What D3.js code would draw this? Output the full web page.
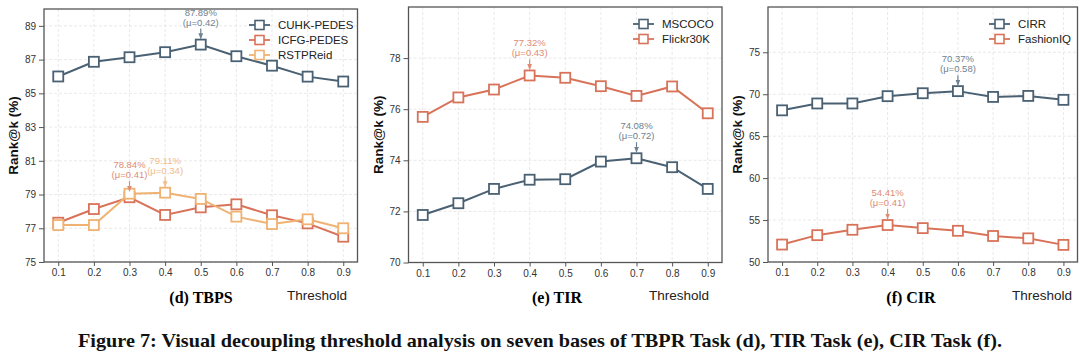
<!DOCTYPE html>
<html>
<head>
<meta charset="utf-8">
<script src="https://cdn.jsdelivr.net/npm/d3@7"></script>
<style>
  html, body { margin: 0; padding: 0; background: #fff; }
  svg { display: block; }
</style>
</head>
<body>
<svg id="chart" width="1080" height="355"></svg>
<script>
// ---------------- DATA ----------------
const thresholds = [0.1, 0.2, 0.3, 0.4, 0.5, 0.6, 0.7, 0.8, 0.9];
const xTickLabels = ["0.1","0.2","0.3","0.4","0.5","0.6","0.7","0.8","0.9"];

// (d) TBPS
const cuhkPedes  = [86.00, 86.87, 87.14, 87.44, 87.89, 87.20, 86.64, 85.99, 85.70];
const icfgPedes  = [77.33, 78.14, 78.84, 77.79, 78.24, 78.42, 77.77, 77.29, 76.50];
const rstpReid   = [77.19, 77.19, 79.05, 79.11, 78.74, 77.69, 77.25, 77.53, 77.00];
const tbpsYTicks = [75, 77, 79, 81, 83, 85, 87, 89];

// (e) TIR
const mscoco     = [71.86, 72.32, 72.88, 73.24, 73.26, 73.95, 74.08, 73.73, 72.88];
const flickr30k  = [75.70, 76.46, 76.77, 77.32, 77.23, 76.90, 76.52, 76.89, 75.84];
const tirYTicks  = [70, 72, 74, 76, 78];

// (f) CIR
const cirr       = [68.08, 68.90, 68.90, 69.77, 70.12, 70.37, 69.68, 69.80, 69.33];
const fashionIQ  = [52.08, 53.20, 53.84, 54.41, 54.04, 53.72, 53.10, 52.82, 52.04];
const cirYTicks  = [50, 55, 60, 65, 70, 75];

// peak annotations: [series, index, value text, mu text]
const tbpsNotes = [["CUHK-PEDES", 4, "87.89%", "(μ=0.42)"], ["ICFG-PEDES", 2, "78.84%", "(μ=0.41)"], ["RSTPReid", 3, "79.11%", "(μ=0.34)"]];
const tirNotes  = [["Flickr30K", 3, "77.32%", "(μ=0.43)"], ["MSCOCO", 6, "74.08%", "(μ=0.72)"]];
const cirNotes  = [["CIRR", 5, "70.37%", "(μ=0.58)"], ["FashionIQ", 3, "54.41%", "(μ=0.41)"]];

const caption = "Figure 7: Visual decoupling threshold analysis on seven bases of TBPR Task (d), TIR Task (e), CIR Task (f).";

// ---------------- STYLE ----------------
const C_DARK = "#4a6173", C_RED = "#d8735a", C_ORANGE = "#efb272";
const A_DARK = "#6f8291", A_RED = "#e08c74", A_ORANGE = "#f1bd88";

const panels = [
  { left: 44, right: 357.5, top: 9, bottom: 262, domain: [75, 90], yTicks: tbpsYTicks,
    series: [{name: "CUHK-PEDES", values: cuhkPedes, color: C_DARK, acolor: A_DARK},
             {name: "ICFG-PEDES", values: icfgPedes, color: C_RED, acolor: A_RED},
             {name: "RSTPReid", values: rstpReid, color: C_ORANGE, acolor: A_ORANGE}],
    notes: tbpsNotes, legendX: 249, legendY: 25, ylabX: 13, title: "(d) TBPS", titleX: 201, threshX: 317 },
  { left: 408.5, right: 722, top: 7, bottom: 262.5, domain: [70, 80], yTicks: tirYTicks,
    series: [{name: "MSCOCO", values: mscoco, color: C_DARK, acolor: A_DARK},
             {name: "Flickr30K", values: flickr30k, color: C_RED, acolor: A_RED}],
    notes: tirNotes, legendX: 633, legendY: 24, ylabX: 378, title: "(e) TIR", titleX: 557, threshX: 679 },
  { left: 768, right: 1077.5, top: 7, bottom: 262, domain: [50, 80.4], yTicks: cirYTicks,
    series: [{name: "CIRR", values: cirr, color: C_DARK, acolor: A_DARK},
             {name: "FashionIQ", values: fashionIQ, color: C_RED, acolor: A_RED}],
    notes: cirNotes, legendX: 989, legendY: 24, ylabX: 737, title: "(f) CIR", titleX: 911, threshX: 1042 }
];

const svg = d3.select("#chart");
const defs = svg.append("defs");
[["dark", A_DARK], ["red", A_RED], ["orange", A_ORANGE]].forEach(([k, c]) => {
  defs.append("marker").attr("id", "arr-" + k).attr("viewBox", "0 0 10 10")
    .attr("refX", 9).attr("refY", 5).attr("markerWidth", 5).attr("markerHeight", 5)
    .attr("orient", "auto").append("path").attr("d", "M0,1 L10,5 L0,9 z").attr("fill", c);
});
const arrowKey = c => c === A_DARK ? "dark" : (c === A_RED ? "red" : "orange");

const SANS = "'Liberation Sans', Arial, sans-serif";
const SERIF = "'Liberation Serif', 'Times New Roman', serif";

panels.forEach(p => {
  const x = d3.scaleLinear().domain([0.06, 0.94]).range([p.left, p.right]);
  const y = d3.scaleLinear().domain(p.domain).range([p.bottom, p.top]);
  const g = svg.append("g");

  // grid
  g.append("g").selectAll("line").data(thresholds).join("line")
    .attr("x1", d => x(d)).attr("x2", d => x(d)).attr("y1", p.top).attr("y2", p.bottom)
    .attr("stroke", "#e3e3e3").attr("stroke-width", 0.8).attr("stroke-dasharray", "3,2");
  g.append("g").selectAll("line").data(p.yTicks).join("line")
    .attr("x1", p.left).attr("x2", p.right).attr("y1", d => y(d)).attr("y2", d => y(d))
    .attr("stroke", "#e3e3e3").attr("stroke-width", 0.8).attr("stroke-dasharray", "3,2");

  // axes
  const xAxis = d3.axisBottom(x).tickValues(thresholds).tickFormat((d, i) => xTickLabels[i]).tickSize(4).tickPadding(3);
  const yAxis = d3.axisLeft(y).tickValues(p.yTicks).tickFormat(d3.format("d")).tickSize(5).tickPadding(3);
  const gx = g.append("g").attr("transform", `translate(0,${p.bottom})`).call(xAxis);
  const gy = g.append("g").attr("transform", `translate(${p.left},0)`).call(yAxis);
  [gx, gy].forEach(a => {
    a.select(".domain").remove();
    a.selectAll(".tick line").attr("stroke", "#555").attr("stroke-width", 1);
    a.selectAll(".tick text").attr("fill", "#333").style("font-family", SANS).style("font-size", "10px");
  });

  // frame
  g.append("rect").attr("x", p.left).attr("y", p.top).attr("width", p.right - p.left).attr("height", p.bottom - p.top)
    .attr("fill", "none").attr("stroke", "#555").attr("stroke-width", 1.3);

  // series
  const line = d3.line().x((d, i) => x(thresholds[i])).y(d => y(d));
  p.series.forEach(s => {
    g.append("path").datum(s.values).attr("d", line).attr("fill", "none")
      .attr("stroke", s.color).attr("stroke-width", 2);
    g.append("g").selectAll("rect").data(s.values).join("rect")
      .attr("x", (d, i) => x(thresholds[i]) - 5).attr("y", d => y(d) - 5)
      .attr("width", 10).attr("height", 10).attr("fill", "#fff")
      .attr("stroke", s.color).attr("stroke-width", 1.8);
  });

  // annotations
  p.notes.forEach(([name, idx, v, mu]) => {
    const s = p.series.find(q => q.name === name);
    const px = x(thresholds[idx]), py = y(s.values[idx]);
    g.append("text").attr("x", px).attr("y", py - 29).attr("text-anchor", "middle")
      .attr("fill", s.acolor).style("font-family", SANS).style("font-size", "9.5px").text(v);
    g.append("text").attr("x", px).attr("y", py - 19).attr("text-anchor", "middle")
      .attr("fill", s.acolor).style("font-family", SANS).style("font-size", "9.5px").text(mu);
    g.append("line").attr("x1", px).attr("x2", px).attr("y1", py - 16).attr("y2", py - 6)
      .attr("stroke", s.acolor).attr("stroke-width", 1.2)
      .attr("marker-end", `url(#arr-${arrowKey(s.acolor)})`);
  });

  // legend
  p.series.forEach((s, i) => {
    const ly = p.legendY + i * 15;
    g.append("line").attr("x1", p.legendX).attr("x2", p.legendX + 21).attr("y1", ly).attr("y2", ly)
      .attr("stroke", s.color).attr("stroke-width", 1.8);
    g.append("rect").attr("x", p.legendX + 10.5 - 4.5).attr("y", ly - 4.5).attr("width", 9).attr("height", 9)
      .attr("fill", "#fff").attr("stroke", s.color).attr("stroke-width", 1.6);
    g.append("text").attr("x", p.legendX + 29).attr("y", ly).attr("dy", "0.35em")
      .attr("fill", "#222").style("font-family", SANS).style("font-size", "11.5px").text(s.name);
  });

  // y label
  g.append("text").attr("transform", `translate(${p.ylabX},${(p.top + p.bottom) / 2}) rotate(-90)`)
    .attr("text-anchor", "middle").attr("dy", "0.35em").attr("fill", "#111")
    .style("font-family", SANS).style("font-weight", "bold").style("font-size", "13.5px").text("Rank@k (%)");

  // title & threshold
  g.append("text").attr("x", p.titleX).attr("y", 297).attr("text-anchor", "middle").attr("dy", "0.35em")
    .attr("fill", "#000").style("font-family", SERIF).style("font-weight", "bold").style("font-size", "16px").text(p.title);
  g.append("text").attr("x", p.threshX).attr("y", 295).attr("text-anchor", "middle").attr("dy", "0.35em")
    .attr("fill", "#222").style("font-family", SANS).style("font-size", "13.5px").text("Threshold");
});

// caption
svg.append("text").attr("x", 540).attr("y", 340).attr("text-anchor", "middle").attr("dy", "0.35em")
  .attr("textLength", 924).attr("lengthAdjust", "spacingAndGlyphs")
  .attr("fill", "#111").style("font-family", SERIF).style("font-weight", "bold").style("font-size", "19px")
  .text(caption);
</script>
</body>
</html>
